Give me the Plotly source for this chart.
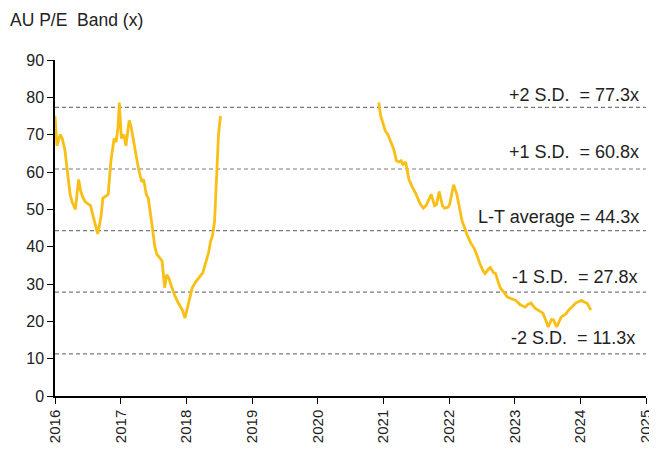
import plotly.graph_objects as go

# Segment 1 (2016 - mid 2018)
years_1 = [2016.00, 2016.03, 2016.08, 2016.11, 2016.15, 2016.20, 2016.23, 2016.26, 2016.31, 2016.36,
           2016.39, 2016.42, 2016.46, 2016.54, 2016.60, 2016.65, 2016.70, 2016.73, 2016.81, 2016.84,
           2016.85, 2016.90, 2016.93, 2016.96, 2016.98, 2017.01, 2017.05, 2017.08, 2017.13, 2017.16,
           2017.19, 2017.24, 2017.27, 2017.32, 2017.35, 2017.39, 2017.42, 2017.47, 2017.52, 2017.55,
           2017.60, 2017.63, 2017.67, 2017.70, 2017.73, 2017.78, 2017.81, 2017.86, 2017.91, 2017.94,
           2017.98, 2018.03, 2018.09, 2018.14, 2018.20, 2018.25, 2018.29, 2018.34, 2018.37, 2018.40,
           2018.43, 2018.46, 2018.48, 2018.49, 2018.52]
pe_1 = [75.0, 67.0, 70.0, 69.0, 66.0, 57.4, 54.0, 52.0, 50.0, 58.0,
        55.0, 53.4, 52.0, 51.0, 47.0, 43.4, 48.0, 53.0, 54.0, 60.0,
        62.7, 69.0, 68.0, 72.0, 78.6, 69.0, 70.0, 67.0, 73.8, 72.0,
        69.0, 63.5, 61.0, 57.4, 58.0, 54.0, 53.0, 46.8, 40.0, 38.0,
        37.0, 36.2, 29.0, 32.5, 31.7, 29.0, 27.5, 25.5, 23.8, 23.0,
        20.9, 25.0, 29.0, 30.5, 31.7, 33.0, 35.4, 38.5, 41.5, 43.0,
        46.8, 58.0, 66.0, 70.0, 75.0]

# Segment 2 (late 2020 - early 2024)
years_2 = [2020.93, 2020.96, 2020.99, 2021.03, 2021.07, 2021.11, 2021.16, 2021.20, 2021.24, 2021.27,
           2021.30, 2021.34, 2021.39, 2021.44, 2021.50, 2021.56, 2021.61, 2021.65, 2021.68, 2021.73,
           2021.78, 2021.81, 2021.85, 2021.90, 2021.93, 2021.98, 2022.01, 2022.04, 2022.07, 2022.12,
           2022.16, 2022.20, 2022.24, 2022.27, 2022.33, 2022.38, 2022.43, 2022.47, 2022.52, 2022.55,
           2022.60, 2022.63, 2022.68, 2022.71, 2022.75, 2022.78, 2022.85, 2022.89, 2022.96, 2023.02,
           2023.08, 2023.16, 2023.20, 2023.25, 2023.31, 2023.36, 2023.43, 2023.48, 2023.51, 2023.56,
           2023.59, 2023.64, 2023.68, 2023.71, 2023.78, 2023.82, 2023.88, 2023.93, 2023.98, 2024.02,
           2024.06, 2024.10, 2024.13, 2024.16]
pe_2 = [78.6, 75.0, 73.3, 71.0, 70.0, 68.0, 66.0, 63.0, 62.7, 63.0,
        62.0, 62.7, 58.0, 56.0, 54.0, 51.5, 50.3, 51.0, 52.0, 54.0,
        51.0, 51.3, 54.8, 51.0, 50.3, 50.5, 51.3, 54.0, 56.6, 54.0,
        50.0, 46.8, 45.0, 43.4, 41.0, 39.7, 37.5, 35.4, 33.5, 32.8,
        34.0, 34.4, 33.0, 32.8, 30.5, 29.0, 27.5, 26.5, 26.0, 25.6,
        24.5, 23.8, 24.5, 24.9, 23.5, 23.0, 22.2, 20.0, 18.5, 20.5,
        20.4, 18.5, 20.0, 21.2, 22.0, 23.0, 24.0, 24.9, 25.3, 25.6,
        25.2, 24.9, 24.0, 23.0]

band_values = [77.3, 60.8, 44.3, 27.8, 11.3]
band_labels = ["+2 S.D.\u00a0 = 77.3x", "+1 S.D.\u00a0 = 60.8x", "L-T average = 44.3x",
               "-1 S.D.\u00a0 = 27.8x", "-2 S.D.\u00a0 = 11.3x"]
label_x = [0.991, 0.991, 0.992, 0.99, 0.985]
label_y = [80.6, 65.3, 48.0, 31.9, 15.6]

year_ticks = list(range(2016, 2026))
y_ticks = list(range(0, 91, 10))

FONT = "Arial, 'Liberation Sans', sans-serif"
LINE_COLOR = "#F9BF16"

fig = go.Figure()
fig.add_trace(go.Scatter(x=years_1, y=pe_1, mode="lines",
                         line=dict(color=LINE_COLOR, width=2.8), showlegend=False))
fig.add_trace(go.Scatter(x=years_2, y=pe_2, mode="lines",
                         line=dict(color=LINE_COLOR, width=2.8), showlegend=False))

for v in band_values:
    fig.add_shape(type="line", xref="paper", x0=0, x1=1, yref="y", y0=v, y1=v,
                  line=dict(color="#7a7a7a", width=1.2, dash="4px,3px"), layer="below")

for txt, lx, ly in zip(band_labels, label_x, label_y):
    fig.add_annotation(x=lx, y=ly, xref="paper", yref="y", text=txt, showarrow=False,
                       xanchor="right", yanchor="middle",
                       font=dict(family=FONT, size=18, color="#222222"))

fig.update_layout(
    width=657, height=459,
    margin=dict(l=47, r=11, t=52, b=71),
    paper_bgcolor="white", plot_bgcolor="white",
    title=dict(text="AU P/E  Band (x)", x=2/657, xanchor="left", xref="container",
               y=1 - 12/459, yanchor="middle", yref="container",
               font=dict(family=FONT, size=17.5, color="#222222")),
    font=dict(family=FONT, size=15, color="#222222"),
)
fig.update_xaxes(range=[2016, 2025], tickvals=year_ticks, ticktext=[str(t) for t in year_ticks],
                 tickangle=-90, showgrid=False, zeroline=False, showline=True,
                 linecolor="black", linewidth=1.5, ticks="outside", ticklen=6,
                 tickcolor="black", tickwidth=1.2, tickfont=dict(size=15))
fig.update_yaxes(range=[0, 90], tickvals=y_ticks, showgrid=False, zeroline=False,
                 showline=True, linecolor="black", linewidth=1.5, ticks="outside",
                 ticklen=6, tickcolor="black", tickwidth=1.2, tickfont=dict(size=16))

fig.write_html("out.html")
